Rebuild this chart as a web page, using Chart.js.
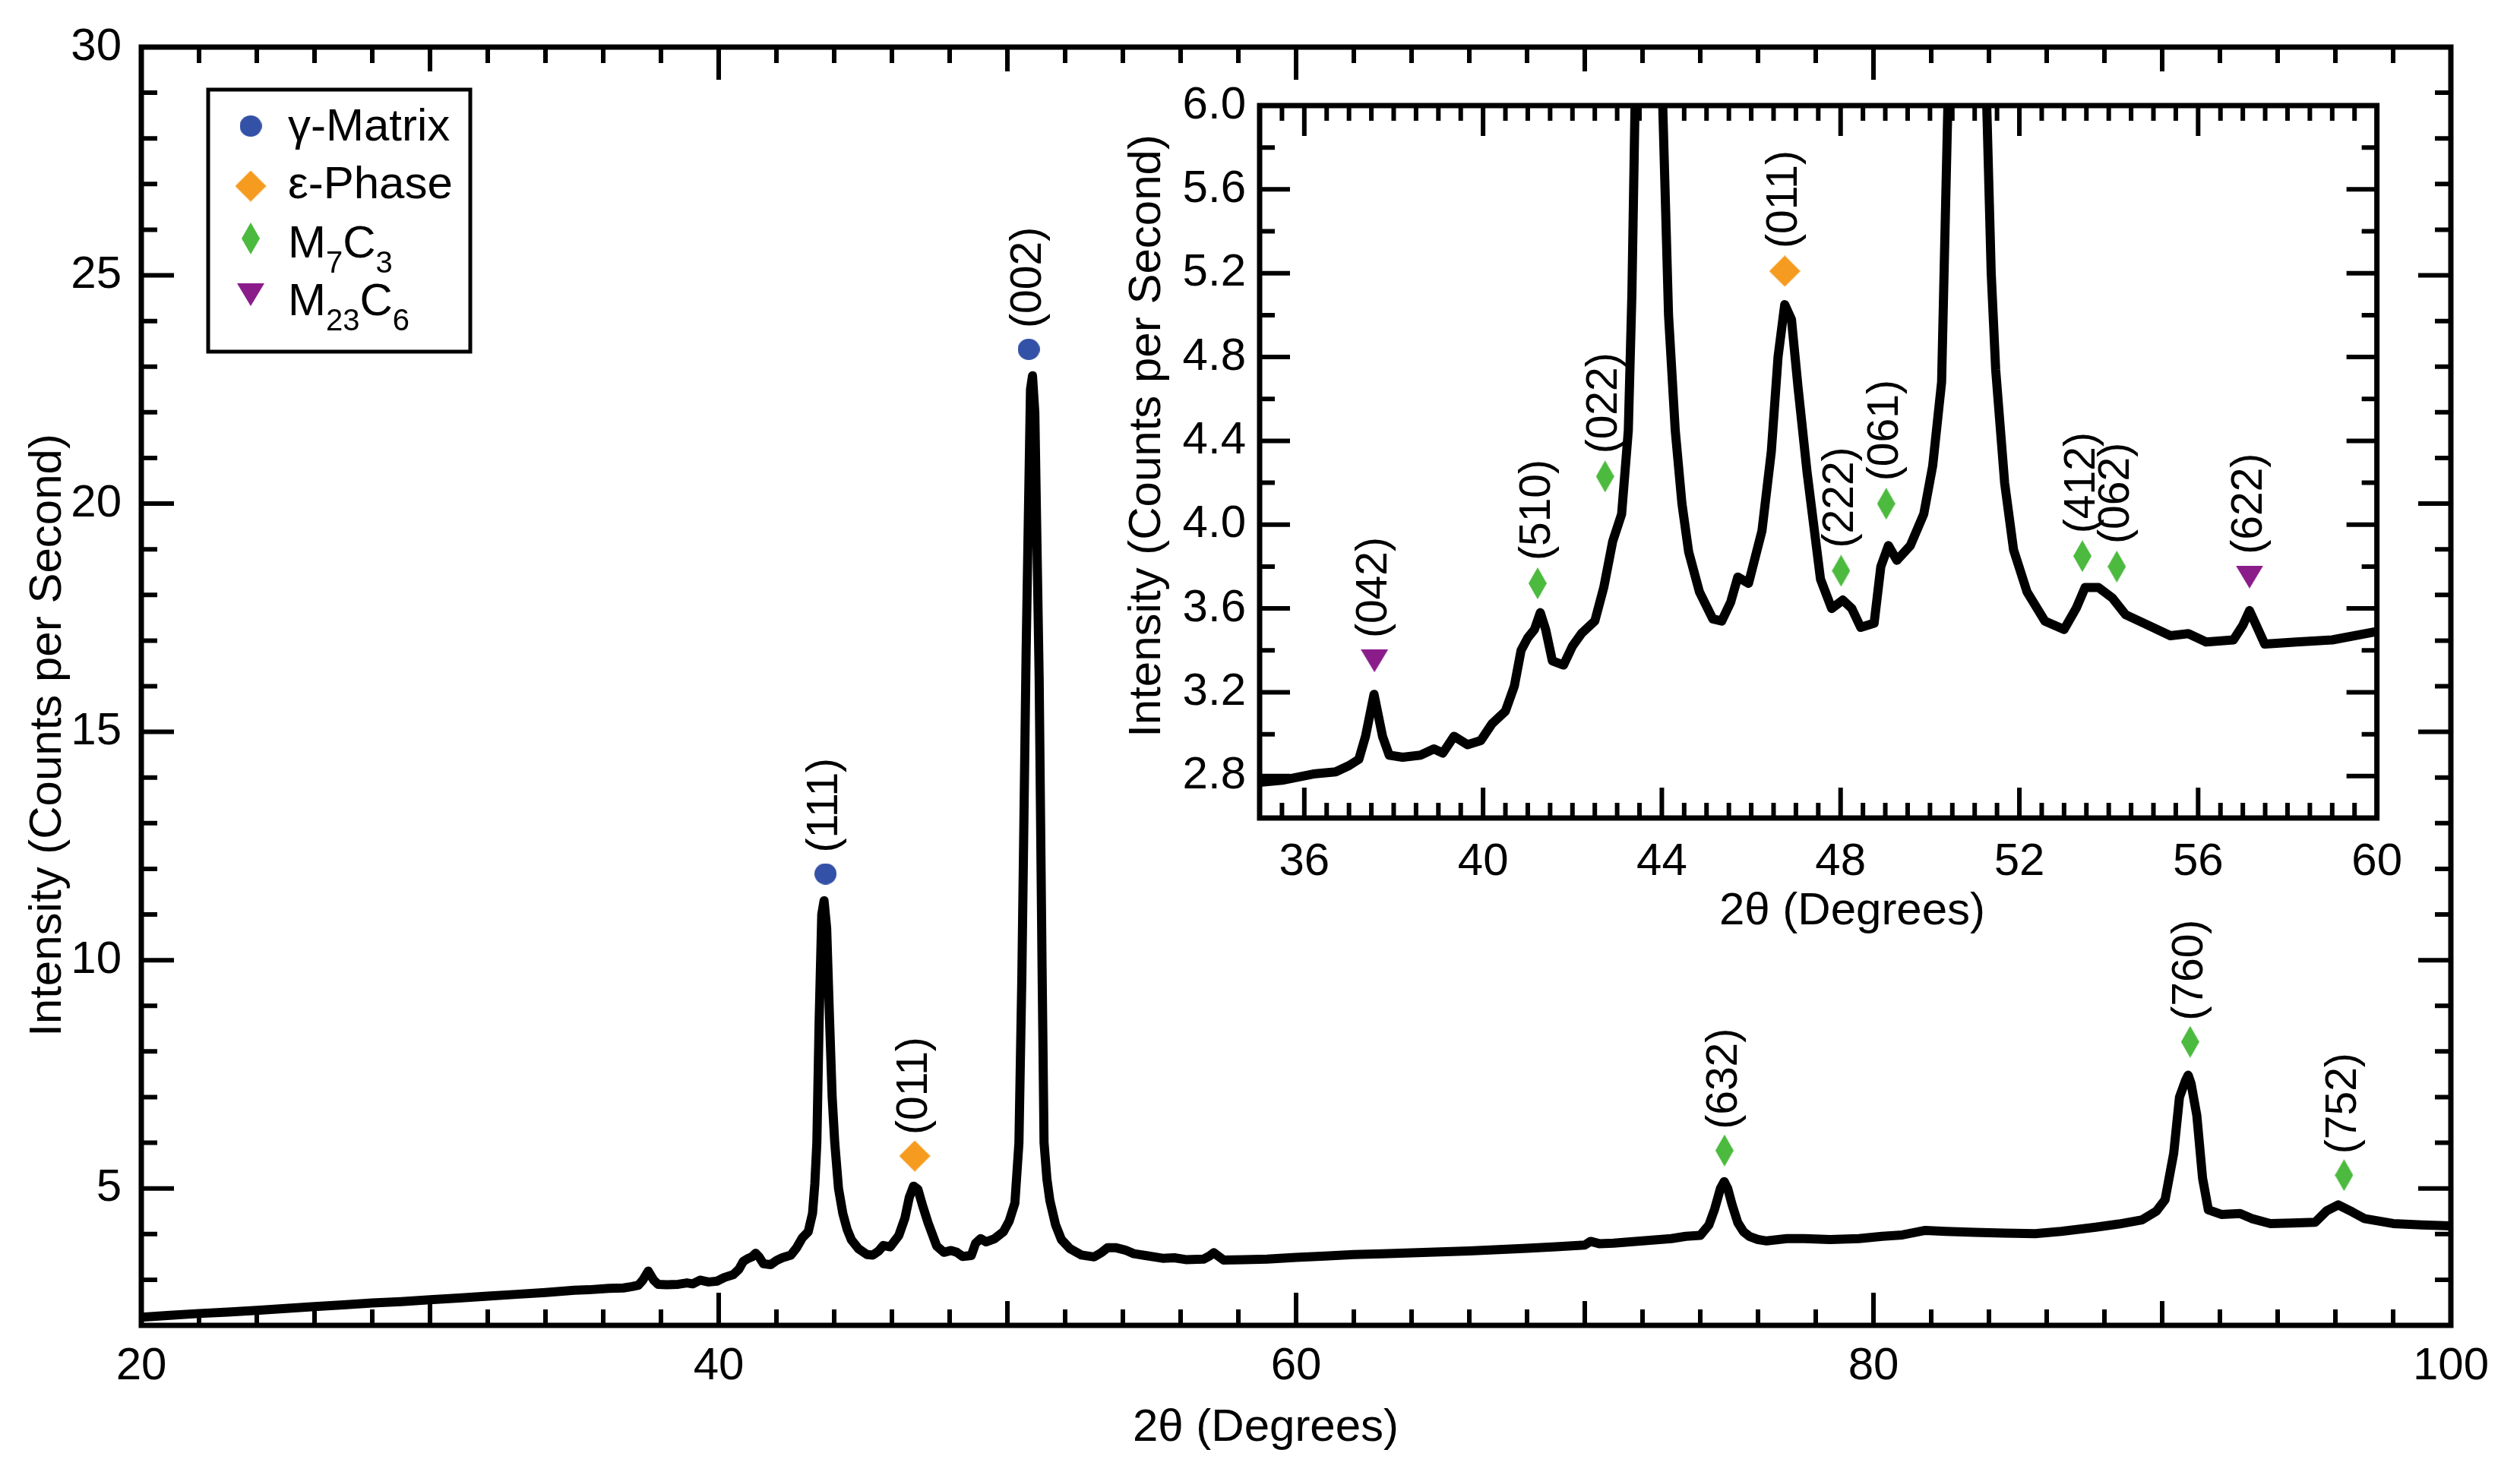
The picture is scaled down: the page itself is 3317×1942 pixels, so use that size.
<!DOCTYPE html>
<html>
<head>
<meta charset="utf-8">
<script src="https://cdn.jsdelivr.net/npm/chart.js@4.4.1/dist/chart.umd.min.js"></script>
<style>
  html, body { margin: 0; padding: 0; background: #fff; overflow: hidden; }
  #main { position: absolute; left: 0; top: 0; }
  #inset { position: absolute; left: 1440px; top: 85px; }
</style>
</head>
<body>
<canvas id="main" width="3317" height="1942"></canvas>
<canvas id="inset" width="1744" height="1165"></canvas>
<script>
// XRD pattern
const twoTheta = [
  20.0, 21.0, 22.0, 23.0, 24.0, 25.0, 26.0, 27.0, 28.0, 29.0,
  30.0, 31.0, 32.0, 33.0, 34.0, 35.0, 35.5, 36.2, 36.7, 37.0,
  37.22, 37.37, 37.56, 37.75, 37.9, 38.2, 38.6, 38.9, 39.1, 39.35,
  39.65, 39.95, 40.2, 40.5, 40.7, 40.85, 41.0, 41.15, 41.28, 41.4,
  41.55, 41.8, 42.0, 42.2, 42.5, 42.7, 42.9, 43.1, 43.25, 43.33,
  43.40, 43.48, 43.57, 43.65, 43.74, 43.84, 43.93, 44.02, 44.15, 44.3,
  44.45, 44.6, 44.84, 45.14, 45.34, 45.54, 45.7, 45.94, 46.24, 46.45,
  46.6, 46.75, 46.9, 47.05, 47.25, 47.55, 47.8, 48.05, 48.25, 48.45,
  48.75, 48.9, 49.07, 49.26, 49.56, 49.86, 50.06, 50.26, 50.40, 50.50,
  50.65, 50.80, 50.87, 50.95, 51.10, 51.20, 51.27, 51.37, 51.47, 51.67,
  51.87, 52.17, 52.57, 53.0, 53.27, 53.47, 53.77, 54.08, 54.38, 54.78,
  55.38, 55.78, 56.18, 56.79, 57.0, 57.15, 57.3, 57.49, 58.2, 59.0,
  60.0, 61.0, 62.0, 63.0, 64.0, 65.0, 66.0, 67.0, 68.0, 69.0,
  70.0, 70.2, 70.5, 71.0, 72.0, 73.0, 73.5, 74.0, 74.3, 74.5,
  74.7, 74.83, 74.95, 75.1, 75.3, 75.5, 75.7, 76.0, 76.3, 77.0,
  77.6, 78.5, 79.5, 80.3, 81.0, 81.8, 82.5, 83.5, 84.5, 85.6,
  86.5, 87.7, 88.5, 89.3, 89.8, 90.1, 90.4, 90.6, 90.8, 90.9,
  91.0, 91.2, 91.4, 91.6, 92.05, 92.7, 93.1, 93.75, 94.5, 95.3,
  95.7, 96.1, 96.6, 97.0, 98.0, 99.0, 100.0
];
const intensity = [
  2.18, 2.22, 2.26, 2.29, 2.33, 2.37, 2.41, 2.45, 2.49, 2.52,
  2.56, 2.60, 2.64, 2.68, 2.72, 2.77, 2.78, 2.81, 2.82, 2.85,
  2.88, 2.99, 3.19, 2.99, 2.90, 2.89, 2.90, 2.93, 2.91, 2.99,
  2.95, 2.97, 3.05, 3.11, 3.23, 3.40, 3.46, 3.50, 3.58, 3.50,
  3.35, 3.33, 3.42, 3.48, 3.54, 3.70, 3.92, 4.05, 4.45, 5.10,
  6.00, 8.70, 11.00, 11.30, 10.70, 8.70, 7.00, 6.00, 5.00, 4.45,
  4.10, 3.87, 3.68, 3.55, 3.54, 3.63, 3.75, 3.72, 3.97, 4.35,
  4.80, 5.05, 4.98, 4.65, 4.25, 3.74, 3.60, 3.64, 3.60, 3.51,
  3.53, 3.80, 3.90, 3.83, 3.90, 4.05, 4.28, 4.68, 6.00, 9.60,
  16.80, 22.50, 22.80, 22.00, 16.20, 9.90, 6.00, 5.20, 4.74, 4.20,
  3.88, 3.68, 3.54, 3.50, 3.60, 3.70, 3.70, 3.65, 3.57, 3.53,
  3.47, 3.48, 3.44, 3.45, 3.52, 3.59, 3.52, 3.43, 3.44, 3.45,
  3.49, 3.52, 3.55, 3.57, 3.59, 3.61, 3.63, 3.66, 3.69, 3.72,
  3.76, 3.84, 3.79, 3.80, 3.85, 3.90, 3.95, 3.97, 4.20, 4.55,
  5.00, 5.15, 5.00, 4.65, 4.25, 4.05, 3.95, 3.88, 3.85, 3.90,
  3.90, 3.88, 3.90, 3.95, 3.98, 4.08, 4.06, 4.04, 4.02, 4.01,
  4.06, 4.15, 4.22, 4.31, 4.50, 4.75, 5.77, 7.00, 7.35, 7.48,
  7.30, 6.60, 5.22, 4.53, 4.43, 4.45, 4.34, 4.23, 4.24, 4.26,
  4.51, 4.64, 4.48, 4.34, 4.23, 4.20, 4.18
];

// indexed peaks, main plot
const mainPeakX = [43.70, 46.79, 50.74, 74.84, 90.97, 96.30];
const mainPeakY = [11.89, 5.71, 23.38, 5.83, 8.21, 5.29];
const mainPeakHkl = ['(111)', '(011)', '(002)', '(632)', '(760)', '(752)'];
const mainPeakPhase = ['gamma', 'eps', 'gamma', 'm7c3', 'm7c3', 'm7c3'];

// indexed peaks, inset
const insetPeakX = [37.57, 41.22, 42.73, 46.75, 48.01, 49.02, 53.41, 54.18, 57.15];
const insetPeakY = [3.35, 3.72, 4.23, 5.21, 3.78, 4.10, 3.85, 3.80, 3.75];
const insetPeakHkl = ['(042)', '(510)', '(022)', '(011)', '(222)', '(061)', '(412)', '(062)', '(622)'];
const insetPeakPhase = ['m23c6', 'm7c3', 'm7c3', 'eps', 'm7c3', 'm7c3', 'm7c3', 'm7c3', 'm23c6'];

const phaseKeys = ['gamma', 'eps', 'm7c3', 'm23c6'];
const phaseNames = ['γ-Matrix', 'ε-Phase', 'M_{7}C_{3}', 'M_{23}C_{6}'];
const phaseColors = ['#3351a6', '#f59b1f', '#4cba3e', '#8b1d8b'];
const phaseShapes = ['circle', 'diamond', 'thin', 'tri'];

// tick labels
const mainXTicks = [20, 40, 60, 80, 100];
const mainYTicks = [5, 10, 15, 20, 25, 30];
const insetXTicks = [36, 40, 44, 48, 52, 56, 60];
const insetYTicks = [2.8, 3.2, 3.6, 4.0, 4.4, 4.8, 5.2, 5.6, 6.0];

const FONT = "'Liberation Sans', Arial, Helvetica, sans-serif";

function makeMarker(kind, color) {
  const sizes = { circle: [29, 28], diamond: [41, 41], thin: [24, 42], tri: [36, 30] };
  const [w, h] = sizes[kind];
  const c = document.createElement('canvas');
  c.width = w; c.height = h;
  const g = c.getContext('2d');
  g.fillStyle = color;
  g.beginPath();
  if (kind === 'circle') {
    g.ellipse(w / 2, h / 2, w / 2, h / 2, 0, 0, Math.PI * 2);
  } else if (kind === 'tri') {
    g.moveTo(0, 0); g.lineTo(w, 0); g.lineTo(w / 2, h);
  } else {
    g.moveTo(w / 2, 0); g.lineTo(w, h / 2); g.lineTo(w / 2, h); g.lineTo(0, h / 2);
  }
  g.closePath();
  g.fill();
  return c;
}
const markerImgs = phaseKeys.map((k, i) => makeMarker(phaseShapes[i], phaseColors[i]));

function markerSets(px, py, ph) {
  return phaseKeys.map((k, i) => ({
    label: phaseNames[i],
    data: px.map((x, j) => ({ x: x, y: py[j], p: ph[j] })).filter(d => d.p === k),
    pointStyle: markerImgs[i],
    pointRadius: 20,
    showLine: false
  })).filter(ds => ds.data.length);
}

function spectrumSet(clip) {
  return {
    label: 'pattern',
    data: twoTheta.map((x, i) => ({ x: x, y: intensity[i] })),
    showLine: true,
    borderColor: '#000',
    borderWidth: 12,
    borderJoinStyle: 'round',
    pointRadius: 0,
    tension: 0,
    clip: clip
  };
}

function pickLen(v, major, mid, lens) {
  if (major.some(m => Math.abs(m - v) < 1e-6)) return lens[0];
  if (mid.some(m => Math.abs(m - v) < 1e-6)) return lens[1];
  return lens[2];
}

// inward ticks on all four sides plus the box
function framePlugin(spec) {
  return {
    id: 'frame',
    afterDatasetsDraw(chart) {
      const { ctx, chartArea: a, scales } = chart;
      const x = scales.x, y = scales.y;
      ctx.save();
      ctx.strokeStyle = '#000';
      ctx.lineWidth = spec.tickWidth;
      ctx.beginPath();
      const nx = Math.round((spec.xMax - spec.xMin) / spec.xStep);
      for (let i = 1; i < nx; i++) {
        const v = spec.xMin + i * spec.xStep;
        const len = pickLen(v, spec.xMajor, spec.xMid, spec.lens);
        const p = x.getPixelForValue(v);
        ctx.moveTo(p, a.bottom); ctx.lineTo(p, a.bottom - len);
        ctx.moveTo(p, a.top); ctx.lineTo(p, a.top + len);
      }
      const ny = Math.round((spec.yMax - spec.yMin) / spec.yStep);
      for (let i = 1; i < ny; i++) {
        const v = spec.yMin + i * spec.yStep;
        const len = pickLen(v, spec.yMajor, [], spec.lens);
        const p = y.getPixelForValue(v);
        ctx.moveTo(a.left, p); ctx.lineTo(a.left + len, p);
        ctx.moveTo(a.right, p); ctx.lineTo(a.right - len, p);
      }
      ctx.stroke();
      ctx.lineWidth = spec.frameWidth;
      ctx.strokeRect(a.left, a.top, a.right - a.left, a.bottom - a.top);
      ctx.restore();
    }
  };
}

function peakLabelPlugin(px, py, labels, gap) {
  return {
    id: 'peakLabels',
    afterDatasetsDraw(chart) {
      const { ctx, scales } = chart;
      ctx.save();
      ctx.fillStyle = '#000';
      ctx.font = '57px ' + FONT;
      ctx.textAlign = 'left';
      ctx.textBaseline = 'middle';
      px.forEach((v, i) => {
        const X = scales.x.getPixelForValue(v);
        const Y = scales.y.getPixelForValue(py[i]) - gap;
        ctx.save();
        ctx.translate(X, Y);
        ctx.rotate(-Math.PI / 2);
        ctx.fillText(labels[i], 0, 0);
        ctx.restore();
      });
      ctx.restore();
    }
  };
}

function titlePlugin(xt, yt) {
  return {
    id: 'titles',
    afterDraw(chart) {
      const ctx = chart.ctx;
      ctx.save();
      ctx.fillStyle = '#000';
      ctx.font = '60px ' + FONT;
      ctx.textAlign = 'center';
      ctx.textBaseline = 'middle';
      ctx.fillText('2θ (Degrees)', xt[0], xt[1]);
      ctx.translate(yt[0], yt[1]);
      ctx.rotate(-Math.PI / 2);
      ctx.fillText('Intensity (Counts per Second)', 0, 0);
      ctx.restore();
    }
  };
}

// text with _{n} subscripts
function drawRich(ctx, str, x, y, size) {
  const parts = str.split(/(_\{[^}]*\})/).filter(s => s.length);
  parts.forEach(s => {
    if (s.startsWith('_{')) {
      const t = s.slice(2, -1);
      ctx.font = Math.round(size * 0.66) + 'px ' + FONT;
      ctx.fillText(t, x, y + size * 0.33);
      x += ctx.measureText(t).width;
    } else {
      ctx.font = size + 'px ' + FONT;
      ctx.fillText(s, x, y);
      x += ctx.measureText(s).width;
    }
  });
}

const legendPlugin = {
  id: 'phaseLegend',
  afterDraw(chart) {
    const ctx = chart.ctx;
    const markerY = [166, 245, 314, 388];
    const textY = [185, 261, 339, 415];
    ctx.save();
    ctx.fillStyle = '#fff';
    ctx.fillRect(274, 118, 345, 345);
    ctx.strokeStyle = '#000';
    ctx.lineWidth = 5;
    ctx.strokeRect(274, 118, 345, 345);
    ctx.fillStyle = '#000';
    ctx.textAlign = 'left';
    ctx.textBaseline = 'alphabetic';
    phaseNames.forEach((name, i) => {
      const img = markerImgs[i];
      ctx.drawImage(img, 330 - img.width / 2, markerY[i] - img.height / 2);
      drawRich(ctx, name, 379, textY[i], 60);
    });
    ctx.restore();
  }
};

const insetBg = {
  id: 'insetBg',
  beforeDatasetsDraw(chart) {
    const { ctx, chartArea: a } = chart;
    ctx.save();
    ctx.fillStyle = '#fff';
    ctx.fillRect(a.left, a.top, a.right - a.left, a.bottom - a.top);
    ctx.restore();
  }
};

function axis(min, max, ticks, fmt, pad, size, horizontal) {
  return {
    type: 'linear',
    min: min,
    max: max,
    grid: { display: false, drawTicks: false },
    border: { display: false },
    title: { display: false },
    afterBuildTicks: s => { s.ticks = ticks.map(v => ({ value: v })); },
    afterFit: s => { if (horizontal) s.height = size; else s.width = size; },
    ticks: {
      autoSkip: false,
      maxRotation: 0,
      padding: pad,
      color: '#000',
      font: { family: FONT, size: 60 },
      callback: fmt
    }
  };
}

new Chart(document.getElementById('main'), {
  type: 'scatter',
  data: { datasets: markerSets(mainPeakX, mainPeakY, mainPeakPhase).concat([spectrumSet(undefined)]) },
  options: {
    responsive: false,
    devicePixelRatio: 1,
    animation: false,
    events: [],
    layout: { padding: { left: 0, right: 91, top: 49, bottom: 0 } },
    plugins: { legend: { display: false }, tooltip: { enabled: false } },
    scales: {
      x: axis(20, 100, mainXTicks, v => String(v), 18, 197, true),
      y: axis(2, 30, mainYTicks, v => String(v), 26, 186, false)
    }
  },
  plugins: [
    framePlugin({ xMin: 20, xMax: 100, xStep: 2, xMajor: mainXTicks, xMid: [30, 50, 70, 90],
                  yMin: 2, yMax: 30, yStep: 1, yMajor: mainYTicks, lens: [43, 32, 21],
                  tickWidth: 6, frameWidth: 7 }),
    peakLabelPlugin(mainPeakX, mainPeakY, mainPeakHkl, 28),
    titlePlugin([1666, 1880], [63, 968]),
    legendPlugin
  ]
});

new Chart(document.getElementById('inset'), {
  type: 'scatter',
  data: { datasets: markerSets(insetPeakX, insetPeakY, insetPeakPhase).concat([spectrumSet(0)]) },
  options: {
    responsive: false,
    devicePixelRatio: 1,
    animation: false,
    events: [],
    layout: { padding: { left: 0, right: 40, top: 40, bottom: 0 } },
    plugins: { legend: { display: false }, tooltip: { enabled: false } },
    scales: {
      x: axis(35, 60, insetXTicks, v => String(v), 22, 173, true),
      y: axis(2.6, 6.0, insetYTicks, v => v.toFixed(1), 18, 218, false)
    }
  },
  plugins: [
    insetBg,
    framePlugin({ xMin: 35, xMax: 60, xStep: 0.5, xMajor: insetXTicks, xMid: [],
                  yMin: 2.6, yMax: 6.0, yStep: 0.2, yMajor: insetYTicks, lens: [40, 30, 20],
                  tickWidth: 6, frameWidth: 7 }),
    peakLabelPlugin(insetPeakX, insetPeakY, insetPeakHkl, 30),
    titlePlugin([998, 1115], [70, 489])
  ]
});
</script>
</body>
</html>
